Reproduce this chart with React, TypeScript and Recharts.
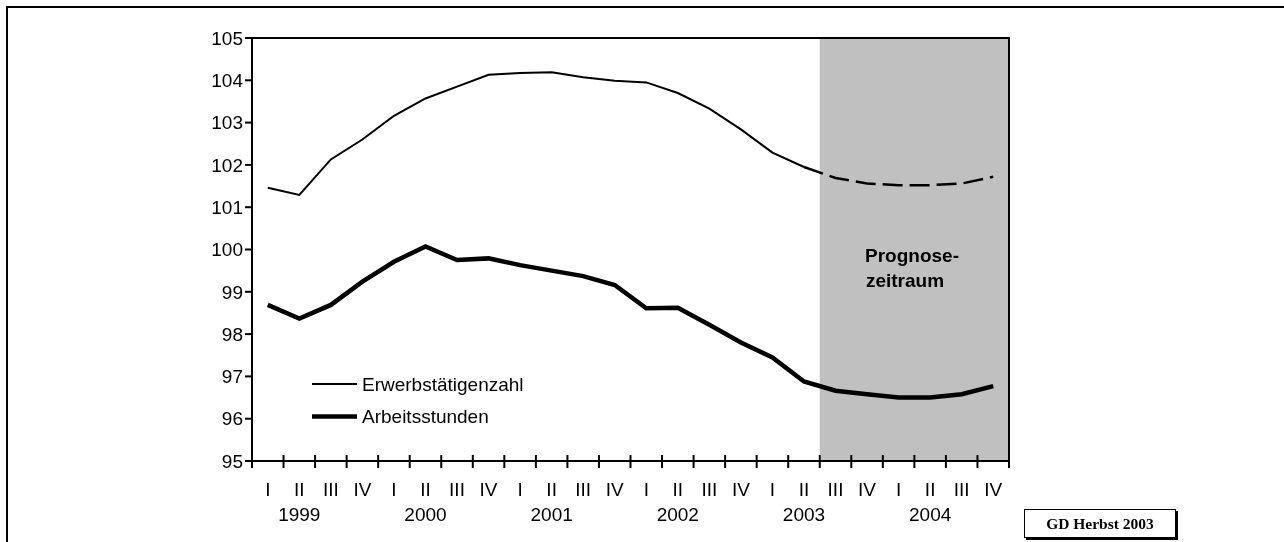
import React from 'react';
import { ComposedChart, Line, XAxis, YAxis, ReferenceArea, Legend } from 'recharts';

const quarters = [
  'I', 'II', 'III', 'IV', 'I', 'II', 'III', 'IV', 'I', 'II', 'III', 'IV',
  'I', 'II', 'III', 'IV', 'I', 'II', 'III', 'IV', 'I', 'II', 'III', 'IV',
];
const years = ['1999', '2000', '2001', '2002', '2003', '2004'];

// Index 1999 = 100
const erwerbstaetigenzahl = [
  101.46, 101.29, 102.13, 102.6, 103.16, 103.57, 103.85, 104.13, 104.17, 104.19, 104.07, 103.99,
  103.95, 103.7, 103.33, 102.84, 102.29, 101.95, 101.69, 101.56, 101.52, 101.52, 101.56, 101.72,
];
const arbeitsstunden = [
  98.69, 98.37, 98.69, 99.24, 99.71, 100.07, 99.75, 99.79, 99.63, 99.5, 99.37, 99.16,
  98.61, 98.62, 98.22, 97.8, 97.45, 96.88, 96.66, 96.58, 96.5, 96.5, 96.58, 96.77,
];
const yTicks = [95, 96, 97, 98, 99, 100, 101, 102, 103, 104, 105];

// last observed quarter (2003 II); forecast period starts after it
const lastActual = 17;
const forecastFrom = 18;

const FONT = '"Liberation Sans", Arial, sans-serif';
const FS = 19;

const data = quarters.map((q, i) => ({
  pos: i + 0.5,
  erwerb: i <= lastActual ? erwerbstaetigenzahl[i] : null,
  erwerbPrognose: i >= lastActual ? erwerbstaetigenzahl[i] : null,
  stunden: arbeitsstunden[i],
}));

const boundaryTicks = quarters.map((_, i) => i).concat([quarters.length]);

// tick marks only, no label
const NoLabel = () => <g />;

// ticks sit on quarter boundaries, labels go in the middle of each quarter
const QuarterTick = (props: any) => {
  const { x, y, payload, width } = props;
  const i = Math.round(payload.value);
  if (i >= quarters.length) return <g />;
  const band = (typeof width === 'number' && width > 0 ? width : 757) / quarters.length;
  const cx = x + band / 2;
  return (
    <g>
      <text x={cx} y={y + 28} textAnchor="middle" fontSize={FS} fontFamily={FONT} fill="#000">
        {quarters[i]}
      </text>
      {quarters[i] === 'II' && (
        <text x={cx} y={y + 53} textAnchor="middle" fontSize={FS} fontFamily={FONT} fill="#000">
          {years[Math.floor(i / 4)]}
        </text>
      )}
    </g>
  );
};

const LegendBox = () => (
  <svg width={240} height={64}>
    <line x1={0} y1={14} x2={45} y2={14} stroke="#000" strokeWidth={2} />
    <text x={50} y={20.5} fontSize={FS} fontFamily={FONT} fill="#000">Erwerbstätigenzahl</text>
    <line x1={0} y1={46.5} x2={45} y2={46.5} stroke="#000" strokeWidth={4.5} />
    <text x={50} y={53} fontSize={FS} fontFamily={FONT} fill="#000">Arbeitsstunden</text>
  </svg>
);

export default function App() {
  return (
    <div style={{ position: 'relative', width: 1268, height: 534 }}>
      <style>{'html { overflow: hidden; }'}</style>
      {/* page frame, open to the right and bottom */}
      <div style={{ position: 'fixed', left: 6, top: 6, width: 1278, height: 2, background: '#000' }} />
      <div style={{ position: 'fixed', left: 6, top: 6, width: 2, height: 536, background: '#000' }} />
      <div style={{ position: 'absolute', left: 0, top: 0 }}>
        <ComposedChart
          width={1100}
          height={526}
          data={data}
          margin={{ top: 30, right: 99, left: 184, bottom: 3 }}
          style={{ fontFamily: FONT }}
        >
          <ReferenceArea
            x1={forecastFrom}
            x2={quarters.length}
            y1={95}
            y2={105}
            xAxisId="t"
            fill="#c0c0c0"
            fillOpacity={1}
            stroke="none"
          />
          <ReferenceArea
            x1={0}
            x2={quarters.length}
            y1={95}
            y2={105}
            xAxisId="t"
            fill="none"
            stroke="#000"
            strokeWidth={2}
          />
          <XAxis
            xAxisId="t"
            dataKey="pos"
            type="number"
            domain={[0, quarters.length]}
            ticks={boundaryTicks}
            interval={0}
            height={70}
            tickSize={7}
            tickMargin={0}
            axisLine={{ stroke: '#000', strokeWidth: 2 }}
            tickLine={{ stroke: '#000', strokeWidth: 2 }}
            tick={<QuarterTick />}
          />
          <XAxis
            xAxisId="m"
            dataKey="pos"
            type="number"
            domain={[0, quarters.length]}
            ticks={boundaryTicks}
            interval={0}
            mirror
            height={1}
            tick={<NoLabel />}
            tickSize={6}
            axisLine={false}
            tickLine={{ stroke: '#000', strokeWidth: 2 }}
          />
          <YAxis
            type="number"
            domain={[95, 105]}
            ticks={yTicks}
            width={60}
            tickSize={7}
            tickMargin={2}
            interval={0}
            axisLine={{ stroke: '#000', strokeWidth: 2 }}
            tickLine={{ stroke: '#000', strokeWidth: 2 }}
            tick={{ fill: '#000', fontSize: FS, fontFamily: FONT }}
          />
          <YAxis
            yAxisId="m"
            type="number"
            domain={[95, 105]}
            ticks={yTicks}
            interval={0}
            mirror
            width={1}
            tick={<NoLabel />}
            tickSize={6}
            axisLine={false}
            tickLine={{ stroke: '#000', strokeWidth: 2 }}
          />
          <Legend
            layout="horizontal"
            align="center"
            verticalAlign="middle"
            content={() => <LegendBox />}
            wrapperStyle={{ position: 'absolute', left: 304, top: 362, width: 240, height: 64 }}
          />
          <Line
            xAxisId="t"
            dataKey="erwerb"
            name="Erwerbstätigenzahl"
            stroke="#000"
            strokeWidth={2}
            dot={false}
            isAnimationActive={false}
          />
          <Line
            xAxisId="t"
            dataKey="erwerbPrognose"
            stroke="#000"
            strokeWidth={2.5}
            strokeDasharray="20 7"
            dot={false}
            isAnimationActive={false}
            legendType="none"
          />
          <Line
            xAxisId="t"
            dataKey="stunden"
            name="Arbeitsstunden"
            stroke="#000"
            strokeWidth={4.5}
            dot={false}
            isAnimationActive={false}
          />
        </ComposedChart>
      </div>
      <div
        style={{
          position: 'absolute',
          left: 905 - 8 - 100,
          top: 243 - 8,
          width: 200,
          textAlign: 'center',
          fontFamily: FONT,
          fontWeight: 'bold',
          fontSize: FS,
          lineHeight: '25px',
        }}
      >
        <div style={{ marginLeft: 14 }}>Prognose-</div>
        <div>zeitraum</div>
      </div>
      <div
        style={{
          position: 'absolute',
          left: 1024 - 8,
          top: 509 - 8,
          width: 150,
          height: 27,
          border: '1px solid #000',
          boxShadow: '2px 2px 0 #000',
          background: '#fff',
          fontFamily: '"Liberation Serif", "Times New Roman", serif',
          fontWeight: 'bold',
          fontSize: 15.5,
          lineHeight: '27px',
          textAlign: 'center',
        }}
      >
        GD Herbst 2003
      </div>
    </div>
  );
}
